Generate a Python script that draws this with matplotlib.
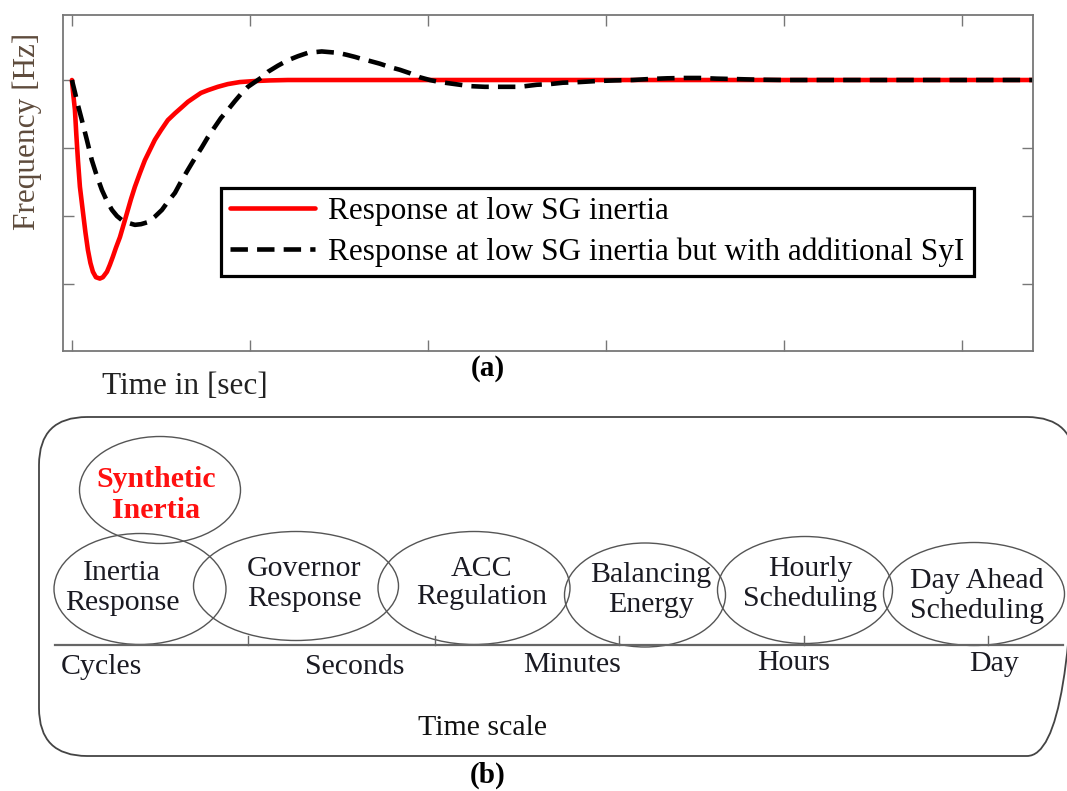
import numpy as np
import matplotlib
matplotlib.use("Agg")
import matplotlib.pyplot as plt
from matplotlib.patches import Ellipse, FancyBboxPatch

plt.rcParams['font.family'] = ['Liberation Serif', 'DejaVu Serif']

# (a) frequency response (time in tick units, freq in tick units)
t_low = [0, 0.008, 0.017, 0.025, 0.034, 0.045, 0.062, 0.076, 0.090, 0.104, 0.118,
         0.135, 0.157, 0.174, 0.197, 0.213, 0.230, 0.247, 0.270, 0.309, 0.331,
         0.354, 0.382, 0.410, 0.438, 0.466, 0.500, 0.539, 0.579, 0.618, 0.652,
         0.691, 0.725, 0.764, 0.820, 0.876, 0.944, 1.028, 1.112, 1.213, 5.40]
f_low = [0, -0.22, -0.44, -0.81, -1.18, -1.57, -1.94, -2.24, -2.50, -2.69, -2.82,
         -2.90, -2.92, -2.90, -2.82, -2.72, -2.60, -2.47, -2.31, -1.96, -1.76,
         -1.57, -1.37, -1.18, -1.03, -0.88, -0.74, -0.59, -0.49, -0.40, -0.32,
         -0.25, -0.19, -0.15, -0.10, -0.06, -0.03, -0.015, -0.006, 0, 0]

t_syi = [0, 0.017, 0.034, 0.056, 0.084, 0.112, 0.140, 0.169, 0.197, 0.225, 0.253,
         0.281, 0.315, 0.354, 0.388, 0.427, 0.466, 0.506, 0.539, 0.579, 0.612,
         0.652, 0.691, 0.730, 0.764, 0.803, 0.837, 0.876, 0.916, 0.955, 0.989,
         1.028, 1.067, 1.101, 1.157, 1.213, 1.270, 1.326, 1.365, 1.404, 1.449,
         1.494, 1.545, 1.590, 1.629, 1.674, 1.730, 1.787, 1.843, 1.899, 1.955,
         2.011, 2.067, 2.124, 2.180, 2.236, 2.320, 2.421, 2.517, 2.612, 2.685,
         2.758, 2.854, 2.949, 3.051, 3.152, 3.247, 3.343, 3.444, 3.528, 3.624,
         3.713, 3.854, 3.994, 5.40]
f_syi = [0, -0.18, -0.37, -0.59, -0.88, -1.18, -1.41, -1.62, -1.78, -1.91, -2.00,
         -2.06, -2.10, -2.13, -2.12, -2.09, -2.01, -1.91, -1.79, -1.66, -1.50,
         -1.32, -1.15, -0.99, -0.84, -0.69, -0.56, -0.44, -0.31, -0.19, -0.10,
         -0.03, 0.04, 0.12, 0.21, 0.29, 0.35, 0.40, 0.41, 0.42, 0.41,
         0.40, 0.37, 0.34, 0.31, 0.28, 0.24, 0.19, 0.15, 0.10, 0.04,
         0, -0.03, -0.05, -0.07, -0.09, -0.10, -0.10, -0.10, -0.07, -0.06,
         -0.04, -0.03, -0.015, -0.006, 0, 0.015, 0.025, 0.03, 0.03, 0.02,
         0.015, 0.005, 0, 0]

labels = ['Response at low SG inertia',
          'Response at low SG inertia but with additional SyI']

# (b) time scale diagram
services = ['Synthetic\nInertia', 'Inertia\nResponse', 'Governor\nResponse',
            'ACC\nRegulation', 'Balancing\nEnergy', 'Hourly\nScheduling',
            'Day Ahead\nScheduling']
scales = ['Cycles', 'Seconds', 'Minutes', 'Hours', 'Day']

W, H = 1067, 791
fig = plt.figure(figsize=(W / 100, H / 100), dpi=100)

ax = fig.add_axes([63 / W, 1 - 351 / H, 970 / W, 336 / H], zorder=2)
ax.plot(t_low, f_low, color='#ff0000', lw=3.3, label=labels[0],
        solid_capstyle='round', solid_joinstyle='round')
ax.plot(t_syi, f_syi, color='black', lw=3.3, ls=(0, (3.8, 2.0)), label=labels[1])
ax.set_xlim(-0.05, 5.40)
ax.set_ylim(-3.985, 0.956)
ax.set_xticks(range(6))
ax.set_yticks([0, -1, -2, -3])
ax.tick_params(direction='in', length=8, width=1, color='#777777',
               top=True, right=True, labelbottom=False, labelleft=False)
for sp in ax.spines.values():
    sp.set_color('#777777')
    sp.set_linewidth(1.3)

ax.set_ylabel('Frequency [Hz]', fontsize=22.5, color='#5e4b3c')
ax.yaxis.set_label_coords((27 - 63) / 970, (351 - 131) / 336)
ax.yaxis.label.set_va('center')
ax.set_xlabel('Time in [sec]', fontsize=22.5, color='#222222')
ax.xaxis.set_label_coords((185 - 63) / 970, (351 - 387) / 336)
ax.xaxis.label.set_va('center')

leg = ax.legend(loc='upper left', bbox_to_anchor=(221 / W, 1 - 188 / H),
                bbox_transform=fig.transFigure, borderaxespad=0, fontsize=22.5,
                frameon=True, fancybox=False, framealpha=1, edgecolor='black',
                borderpad=0.3, labelspacing=0.35, handlelength=2.72,
                handletextpad=0.42)
leg.get_frame().set_linewidth(2.3)

# overlay in pixel coordinates for the diagram
dg = fig.add_axes([0, 0, 1, 1], zorder=1)
dg.set_xlim(0, W)
dg.set_ylim(H, 0)
dg.axis('off')

dg.text(488, 369, '(a)', fontsize=21, fontweight='bold', ha='center', va='center')
dg.text(488, 775, '(b)', fontsize=21, fontweight='bold', ha='center', va='center')

dg.add_patch(FancyBboxPatch((39, 417), 1036, 339,
                            boxstyle='round,pad=0,rounding_size=48',
                            fc='none', ec='#444444', lw=1.3))

ellipses = [(160, 490, 161, 107), (140, 589, 172, 111), (296, 586, 205, 109),
            (474, 588, 192, 113), (645, 595, 161, 104), (805, 590, 175, 107),
            (974, 594, 181, 103)]
text_pos = [(156, 495), (122, 588), (304, 584), (482, 583), (651, 590),
            (810, 584), (977, 596)]
for (cx, cy, ew, eh), (tx, ty), name in zip(ellipses, text_pos, services):
    dg.add_patch(Ellipse((cx, cy), ew, eh, fc='none', ec='#555555', lw=1.0))
    if name.startswith('Synthetic'):
        dg.text(tx, ty, name, fontsize=21.5, fontweight='bold', color='#ff1010',
                ha='center', va='center', linespacing=1.15)
    else:
        dg.text(tx, ty, name, fontsize=21.5, color='#1a1a22',
                ha='center', va='center', linespacing=1.15)

dg.plot([55, 1063], [645, 645], color='#666666', lw=1.6)
for x in [248, 435, 619, 804, 988]:
    dg.plot([x, x], [645, 636], color='#666666', lw=1.0)

scale_pos = [(101, 667), (355, 667), (572, 665), (794, 663), (994, 664)]
for (sx, sy), s in zip(scale_pos, scales):
    dg.text(sx, sy, s, fontsize=21.5, color='#1a1a22', ha='center', va='center')

dg.text(483, 728, 'Time scale', fontsize=21.5, color='#111111', ha='center', va='center')

fig.savefig('out.png', dpi=100)
